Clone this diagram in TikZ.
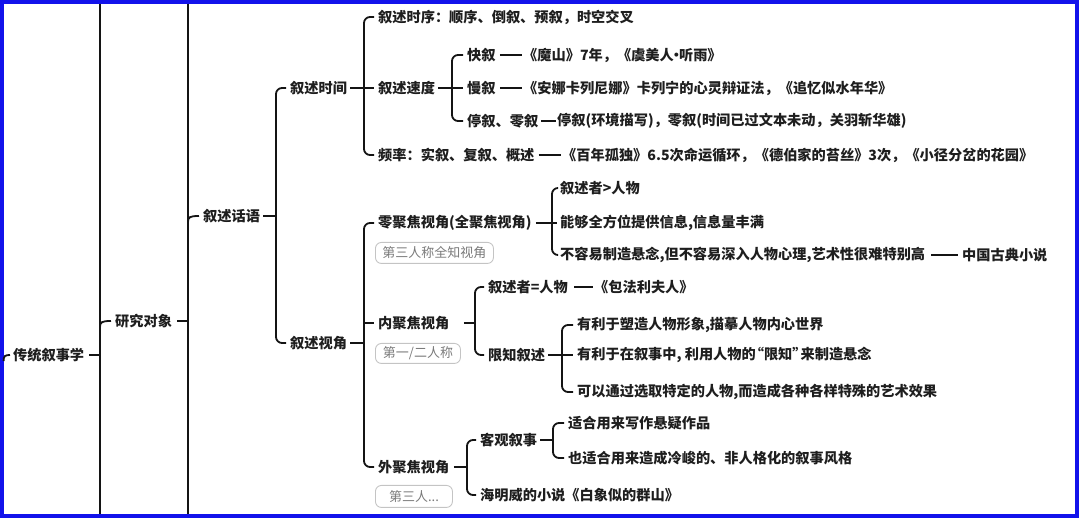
\documentclass[tikz,border=0pt]{standalone}
\usepackage{fontspec}
\setmainfont{Noto Sans CJK SC}
\definecolor{txt}{HTML}{1E1E1E}
\definecolor{frameblue}{RGB}{18,18,235}
\definecolor{badgeline}{HTML}{C4C4C4}
\definecolor{badgetxt}{HTML}{7A7A7A}
\tikzset{
  t/.style={font=\bfseries\fontsize{14.2}{16}\selectfont, inner sep=0pt, anchor=west, text=txt},
  badge/.style={draw=badgeline, line width=0.9pt, rounded corners=6pt, text=badgetxt,
    font=\fontsize{13}{15}\selectfont, inner sep=0pt, anchor=north west},
  ln/.style={line width=1.8pt, draw=black!92},
  br/.style={ln, rounded corners=6pt},
}
\begin{document}
\begin{tikzpicture}[x=1pt,y=-1pt]
\useasboundingbox (0,0) rectangle (1080,518);
% frame
\draw[frameblue, line width=3.6pt] (1.8,1.8) rectangle (1077,516.2);

% vertical coordinates
\coordinate (v1) at (100,0);
\coordinate (v2) at (188,0);
\coordinate (v3) at (276,0);
\coordinate (v4) at (364,0);
\coordinate (v5) at (452,0);
\coordinate (v6) at (364,0);
\coordinate (v7) at (552,0);
\coordinate (v8) at (475,0);
\coordinate (v9) at (562,0);
\coordinate (v10) at (467,0);
\coordinate (v11) at (553,0);
\coordinate (top1) at (100,3.6);
\coordinate (bot1) at (100,514.4);
\coordinate (top2) at (188,3.6);
\coordinate (bot2) at (188,514.4);
\coordinate (edge) at (3.6,361);

% nodes
\node[t] (r0) at (13,355) {传统叙事学};
\node[t] (r1) at (115,321) {研究对象};
\node[t] (r2) at (203,216) {叙述话语};
\node[t] (a) at (290,88) {叙述时间};
\node[t] (b) at (290,343) {叙述视角};

\node[t] (a1) at (378,17) {叙述时序：顺序、倒叙、预叙，时空交叉};
\node[t] (a2) at (378,88) {叙述速度};
\node[t] (a3) at (378,155) {频率：实叙、复叙、概述};
\node[t] (a3x) at (562,155) {《百年孤独》6.5次命运循环，《德伯家的苔丝》3次，《小径分岔的花园》};

\node[t] (s1) at (467,55) {快叙};
\node[t] (s1x) at (523,55) {《魔山》7年，《虞美人\kern-4.5pt·\kern-4.5pt听雨》};
\node[t] (s2) at (467,88) {慢叙};
\node[t] (s2x) at (523,88) {《安娜卡列尼娜》卡列宁的心灵辩证法，《追忆似水年华》};
\node[t] (s3) at (467,121) {停叙、零叙};
\node[t] (s3x) at (557,121) {停叙(环境描写)，零叙(时间已过文本未动，关羽斩华雄)};

\node[t] (c1) at (378,223) {零聚焦视角(全聚焦视角)};
\node[badge, minimum width=118pt, minimum height=21pt] (bd1) at (375,242) {第三人称全知视角};
\node[t] (c11) at (560,188) {叙述者>人物};
\node[t] (c12) at (560,223) {能够全方位提供信息,信息量丰满};
\node[t] (c13) at (560,255) {不容易制造悬念,但不容易深入人物心理,艺术性很难特别高};
\node[t] (c13x) at (962,255) {中国古典小说};

\node[t] (c2) at (378,323) {内聚焦视角};
\node[badge, minimum width=85pt, minimum height=20pt] (bd2) at (375,343) {第一/二人称};
\node[t] (d1) at (488,287) {叙述者=人物};
\node[t] (d1x) at (594,287) {《包法利夫人》};
\node[t] (d2) at (488,355) {限知叙述};
\node[t] (e1) at (577,325) {有利于塑造人物形象,描摹人物内心世界};
\node[t] (e2) at (577,355) {有利于在叙事中, 利用人物的\kern-6pt“限知”\kern-6pt来制造悬念};
\node[t] (e3) at (577,392) {可以通过选取特定的人物,而造成各种各样特殊的艺术效果};

\node[t] (c3) at (378,467) {外聚焦视角};
\node[badge, minimum width=77pt, minimum height=22pt] (bd3) at (375,485) {第三人...};
\node[t] (f1) at (480,440) {客观叙事};
\node[t] (f2) at (480,495) {海明威的小说《白象似的群山》};
\node[t] (g1) at (568,423) {适合用来写作悬疑作品};
\node[t] (g2) at (568,458) {也适合用来造成冷峻的、非人格化的叙事风格};

% level 0/1 full lines
\draw[ln] (top1) -- (bot1);
\draw[ln] (top2) -- (bot2);
\draw[ln] (edge) .. controls (3.6,356) and (5,355) .. ([xshift=-3pt]r0.west);
\draw[ln] ([xshift=5pt]r0.east) -- (v1 |- r0.east);
\draw[ln] (100,327) .. controls (100,322) and (102,321) .. ([xshift=-4pt]r1.west);
\draw[ln] ([xshift=5pt]r1.east) -- (v2 |- r1.east);
\draw[ln] (188,222) .. controls (188,217) and (190,216) .. ([xshift=-4pt]r2.west);
\draw[ln] ([xshift=3pt]r2.east) -- (v3 |- r2.east);

% 叙述话语 -> 时间 / 视角
\draw[br] ([xshift=-4pt]a.west) -| (v3 |- b.west) -- ([xshift=-4pt]b.west);

% 叙述时间
\draw[ln] ([xshift=3pt]a.east) -- (v4 |- a.east);
\draw[br] ([xshift=-4pt]a1.west) -| (v4 |- a3.west) -- ([xshift=-4pt]a3.west);
\draw[ln] (v4 |- a2.west) -- ([xshift=-4pt]a2.west);
\draw[ln] ([xshift=4pt]a3.east) -- ([xshift=-1pt]a3x.west);

% 叙述速度
\draw[ln] ([xshift=3pt]a2.east) -- (v5 |- a2.east);
\draw[br] ([xshift=-4pt]s1.west) -| (v5 |- s3.west) -- ([xshift=-4pt]s3.west);
\draw[ln] (v5 |- s2.west) -- ([xshift=-4pt]s2.west);
\draw[ln] ([xshift=4pt]s1.east) -- ([xshift=-1pt]s1x.west);
\draw[ln] ([xshift=4pt]s2.east) -- ([xshift=-1pt]s2x.west);
\draw[ln] ([xshift=3pt]s3.east) -- ([xshift=-1pt]s3x.west);

% 叙述视角
\draw[ln] ([xshift=3pt]b.east) -- (v6 |- b.east);
\draw[br] ([xshift=-4pt]c1.west) -| (v6 |- c3.west) -- ([xshift=-4pt]c3.west);
\draw[ln] (v6 |- c2.west) -- ([xshift=-4pt]c2.west);

% 零聚焦
\draw[ln] ([xshift=4pt]c1.east) -- (v7 |- c1.east);
\draw[br] ([xshift=-3pt]c11.west) -| (v7 |- c13.west) -- ([xshift=-3pt]c13.west);
\draw[ln] (v7 |- c12.west) -- ([xshift=-3pt]c12.west);
\draw[ln] ([xshift=6pt]c13.east) -- ([xshift=-4pt]c13x.west);

% 内聚焦
\draw[ln] ([xshift=3pt]bd2.east |- c2.east) -- (v8 |- c2.east);
\draw[br] ([xshift=-4pt]d1.west) -| (v8 |- d2.west) -- ([xshift=-4pt]d2.west);
\draw[ln] ([xshift=6pt]d1.east) -- ([xshift=-1pt]d1x.west);
\draw[ln] ([xshift=3pt]d2.east) -- (v9 |- d2.east);
\draw[br] ([xshift=-4pt]e1.west) -| (v9 |- e3.west) -- ([xshift=-4pt]e3.west);
\draw[ln] (v9 |- e2.west) -- ([xshift=-4pt]e2.west);

% 外聚焦
\draw[ln] ([xshift=1pt]bd3.east |- c3.east) -- (v10 |- c3.east);
\draw[br] ([xshift=-4pt]f1.west) -| (v10 |- f2.west) -- ([xshift=-4pt]f2.west);
\draw[ln] ([xshift=3pt]f1.east) -- (v11 |- f1.east);
\draw[br] ([xshift=-4pt]g1.west) -| (v11 |- g2.west) -- ([xshift=-4pt]g2.west);
\end{tikzpicture}
\end{document}
